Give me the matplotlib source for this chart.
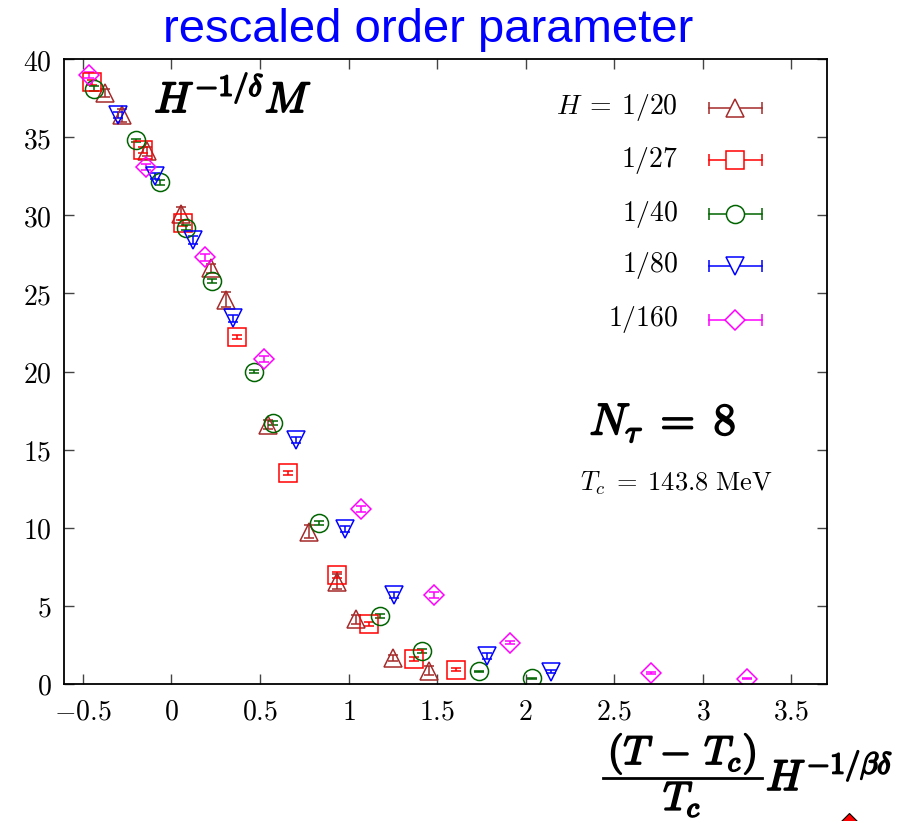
import matplotlib
matplotlib.use("Agg")
import matplotlib.pyplot as plt
import matplotlib.patheffects as pe
from matplotlib.lines import Line2D
from matplotlib.ticker import FuncFormatter, MultipleLocator

plt.rcParams["mathtext.fontset"] = "cm"

# scaled temperature vs rescaled order parameter, one series per field H
labels = [r"H \:=\: 1/20", "1/27", "1/40", "1/80", "1/160"]

x_h20 = [-0.374, -0.280, -0.135, 0.053, 0.222, 0.307, 0.547, 0.778, 0.936, 1.042, 1.252, 1.453]
y_h20 = [37.8, 36.4, 34.1, 30.1, 26.6, 24.6, 16.6, 9.75, 6.55, 4.14, 1.64, 0.85]
e_h20 = [0.25, 0.4, 0.3, 0.4, 0.3, 0.5, 0.3, 0.4, 0.5, 0.3, 0.2, 0.3]

x_h27 = [-0.449, -0.161, 0.064, 0.369, 0.656, 0.933, 1.117, 1.371, 1.604]
y_h27 = [38.5, 34.2, 29.5, 22.2, 13.5, 6.98, 3.84, 1.6, 0.9]
e_h27 = [0.15, 0.2, 0.2, 0.15, 0.15, 0.2, 0.15, 0.15, 0.1]

x_h40 = [-0.436, -0.201, -0.064, 0.083, 0.228, 0.466, 0.575, 0.833, 1.177, 1.416, 1.735, 2.033]
y_h40 = [38.1, 34.8, 32.1, 29.2, 25.8, 20.0, 16.7, 10.3, 4.35, 2.11, 0.81, 0.36]
e_h40 = [0.15, 0.1, 0.15, 0.15, 0.15, 0.1, 0.15, 0.1, 0.1, 0.1, 0.05, 0.05]

x_h80 = [-0.302, -0.092, 0.124, 0.346, 0.703, 0.980, 1.258, 1.784, 2.145]
y_h80 = [36.4, 32.5, 28.4, 23.4, 15.6, 9.9, 5.7, 1.81, 0.79]
e_h80 = [0.2, 0.2, 0.25, 0.2, 0.2, 0.2, 0.2, 0.2, 0.1]

x_h160 = [-0.464, -0.143, 0.190, 0.525, 1.068, 1.483, 1.910, 2.705, 3.251]
y_h160 = [39.0, 33.1, 27.3, 20.8, 11.2, 5.7, 2.64, 0.72, 0.34]
e_h160 = [0.2, 0.2, 0.2, 0.2, 0.2, 0.2, 0.1, 0.05, 0.05]

series = [
    (x_h20, y_h20, e_h20, "^", "#a52a2a"),
    (x_h27, y_h27, e_h27, "s", "#ff0000"),
    (x_h40, y_h40, e_h40, "o", "#006400"),
    (x_h80, y_h80, e_h80, "v", "#0000ff"),
    (x_h160, y_h160, e_h160, "D", "#ff00ff"),
]

# thicken the computer-modern glyphs for the bold math labels
bold = [pe.withStroke(linewidth=1.3, foreground="black")]

W, H = 915, 821
fig = plt.figure(figsize=(W / 100, H / 100), dpi=100)
ax = fig.add_axes([0.0703, 0.1669, 0.8332, 0.7612])


def px(x, y):
    # pixel position (from top-left) -> figure fraction
    return x / W, (H - y) / H


for xs, ys, es, mk, col in series:
    ms = 10 if mk == "D" else 13
    ax.errorbar(xs, ys, yerr=es, fmt=mk, color=col, mfc="none", mec=col,
                ms=ms, mew=1.1, elinewidth=1.1, capsize=3.5, capthick=1.1)

ax.set_xlim(-0.604, 3.699)
ax.set_ylim(0, 40)
ax.xaxis.set_major_locator(MultipleLocator(0.5))
ax.yaxis.set_major_locator(MultipleLocator(5))
fmt = FuncFormatter(lambda v, p: f"${v:g}$")
ax.xaxis.set_major_formatter(fmt)
ax.yaxis.set_major_formatter(fmt)
ax.tick_params(direction="in", length=7, width=1, top=True, right=True,
               labelsize=20, colors="#444444", labelcolor="black")
ax.tick_params(axis="x", pad=10)
ax.tick_params(axis="y", pad=9)
for s in ax.spines.values():
    s.set_linewidth(1.3)

# key drawn by hand: label on the left, symbol with horizontal bar on the right
rows = [0.922, 0.838, 0.752, 0.669, 0.583]
for (xs, ys, es, mk, col), lab, yr in zip(series, labels, rows):
    ax.text(0.805, yr, f"${lab}$", transform=ax.transAxes, ha="right",
            va="center", fontsize=20)
    ax.add_line(Line2D([0.846, 0.915], [yr, yr], transform=ax.transAxes,
                       color=col, lw=1.1))
    for xe in (0.846, 0.915):
        ax.add_line(Line2D([xe], [yr], transform=ax.transAxes, color=col,
                           marker="|", ms=9, mew=1.1))
    ax.add_line(Line2D([0.88], [yr], transform=ax.transAxes, color=col,
                       marker=mk, mfc="white", mec=col,
                       ms=10 if mk == "D" else 13, mew=1.1))

ax.text(0.118, 0.915, r"$H^{-1/\delta}M$", transform=ax.transAxes,
        fontsize=31, va="baseline", path_effects=bold)
ax.text(0.689, 0.399, r"$N_\tau\;=\;8$", transform=ax.transAxes,
        fontsize=32, va="baseline", path_effects=bold)
ax.text(0.676, 0.310, r"$T_c \;=\; 143.8\ \mathrm{MeV}$",
        transform=ax.transAxes, fontsize=19, va="baseline")

fig.text(0.468, 0.990, "rescaled order parameter", color="#0000ff",
         family="Liberation Sans", fontsize=34, ha="center", va="top")

# x label as a stacked fraction followed by the field factor
fig.text(*px(682, 764), r"$(T\,-\,T_c)$", fontsize=29, ha="center",
         va="baseline", path_effects=bold)
fig.add_artist(Line2D(*zip(px(603, 778), px(762, 778)),
                      transform=fig.transFigure, color="black", lw=2))
fig.text(*px(682, 810), r"$T_c$", fontsize=29, ha="center",
         va="baseline", path_effects=bold)
fig.text(*px(766, 790), r"$H^{-1/\beta\delta}$", fontsize=31, ha="left",
         va="baseline", path_effects=bold)

# partly visible red ornament at the lower right edge
fig.add_artist(Line2D([849 / W], [-14 / H], transform=fig.transFigure,
                      marker="D", ms=22, mfc="#ff0000", mec="black", mew=0.8,
                      clip_on=False))

fig.savefig("out.png", dpi=100)
